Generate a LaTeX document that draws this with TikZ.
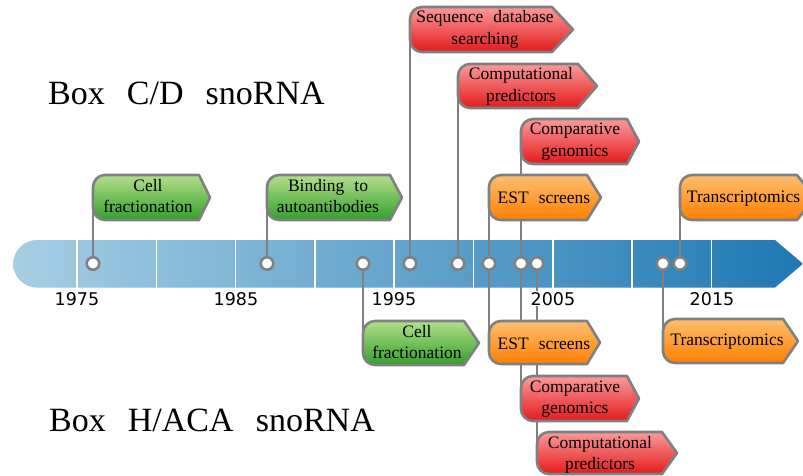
\documentclass[tikz,border=0pt]{standalone}
\usepackage{fontspec}
\setmainfont{Liberation Serif}
\newfontfamily\yearfont{DejaVu Sans}
\definecolor{edgegray}{HTML}{808080}
\definecolor{blA}{HTML}{A6CEE3}
\definecolor{blB}{HTML}{1F78B4}
\definecolor{grA}{HTML}{B2DF8A}
\definecolor{grB}{HTML}{33A02C}
\definecolor{rdA}{HTML}{FB9A99}
\definecolor{rdB}{HTML}{E31A1C}
\definecolor{orA}{HTML}{FDBF6F}
\definecolor{orB}{HTML}{FF7F00}
\newcommand\wsp{\hspace{0.57em}}
\newcommand\bsp{\hspace{0.65em}}
\tikzset{
  tagedge/.style={draw=edgegray, line width=2.6pt, line join=round},
  greentag/.style={top color=grA, bottom color=grB},
  redtag/.style={top color=rdA, bottom color=rdB},
  orangetag/.style={top color=orA, bottom color=orB},
  conn/.style={draw=edgegray, line width=2.6pt},
  dot/.style={circle, fill=white, draw=edgegray, line width=2.6pt, minimum size=12.5pt, inner sep=0pt},
  tagtext/.style={anchor=base, align=center, inner sep=0pt, text=black,
    font=\fontsize{17.5pt}{21.5pt}\selectfont},
  yearlbl/.style={anchor=base, inner sep=1pt, fill=white, text=black,
    font=\yearfont\fontsize{17.5pt}{20pt}\selectfont},
  biglbl/.style={anchor=base west, inner sep=0pt, text=black,
    font=\fontsize{34pt}{40pt}\selectfont},
  divider/.style={draw=white, line width=1.5pt}
}
% #1 name, #2 L, #3 T, #4 B, #5 body right, #6 tip x, #7 text position (last baseline), #8 style, #9 text
\newcommand\drawtag[9]{%
  \path[tagedge,#8] (#2,#3+12) .. controls (#2,#3+5.4) and (#2+5.4,#3) .. (#2+12,#3)
    -- (#5,#3) -- (#6,{(#3+#4)/2}) -- (#5,#4) -- (#2+12,#4)
    .. controls (#2+5.4,#4) and (#2,#4-5.4) .. (#2,#4-12) -- cycle;
  \node[tagtext] (#1) at (#7) {#9};
}
\begin{document}
\begin{tikzpicture}[x=1pt, y=-1pt]
\useasboundingbox (0,0) rectangle (803,476);
\clip (0,0) rectangle (803,476);
\fill[white] (0,0) rectangle (803,476);

% timeline bar
\path[left color=blA, right color=blB]
  (37,240) -- (775,240) -- (803,263.8) -- (775,287.6) -- (37,287.6)
  .. controls (23.9,287.6) and (13.2,276.9) .. (13.2,263.8)
  .. controls (13.2,250.7) and (23.9,240) .. (37,240) -- cycle;
\foreach \k in {0,...,8} {
  \draw[divider] ({77+79.3*\k},240) -- ({77+79.3*\k},287.6);
}

% markers
\node[dot] (c1976) at (93,263.5) {};
\node[dot] (c1987) at (267,263.5) {};
\node[dot] (c1993) at (363,263.5) {};
\node[dot] (c1996) at (410,263.5) {};
\node[dot] (c1999) at (458,263.5) {};
\node[dot] (c2001) at (489,263.5) {};
\node[dot] (c2003) at (521,263.5) {};
\node[dot] (c2004) at (537,263.5) {};
\node[dot] (c2012) at (663,263.5) {};
\node[dot] (c2013) at (680,263.5) {};

% tag attachment points
\coordinate (a1) at (93,197.5);
\coordinate (a2) at (267,197.5);
\coordinate (a3) at (410,29.5);
\coordinate (a4) at (458,86);
\coordinate (a5) at (521,141.5);
\coordinate (a6) at (489,197.5);
\coordinate (a7) at (680,197.5);
\coordinate (a8) at (363,343);
\coordinate (a9) at (489,342.5);
\coordinate (a10) at (521,398.5);
\coordinate (a11) at (537,453);
\coordinate (a12) at (663,341);

% connectors
\draw[conn] (c1976) -- (a1);
\draw[conn] (c1987) -- (a2);
\draw[conn] (c1996) -- (a3);
\draw[conn] (c1999) -- (a4);
\draw[conn] (c2003) -- (a5);
\draw[conn] (c2001) -- (a6);
\draw[conn] (c2013) -- (a7);
\draw[conn] (c1993) -- (a8);
\draw[conn] (c2001) -- (a9);
\draw[conn] (c2003) -- (a10);
\draw[conn] (c2004) -- (a11);
\draw[conn] (c2012) -- (a12);

% year labels
\node[yearlbl] (y1975) at (77,305) {1975};
\node[yearlbl] (y1985) at (236,305) {1985};
\node[yearlbl] (y1995) at (394,305) {1995};
\node[yearlbl] (y2005) at (553,305) {2005};
\node[yearlbl] (y2015) at (712,305) {2015};

% tags above
\drawtag{t1}{93}{175}{220}{199}{210}{148,212.5}{greentag}{Cell\\fractionation}
\drawtag{t2}{267}{175}{220}{390}{402}{328,212.5}{greentag}{Binding\wsp to\\autoantibodies}
\drawtag{t3}{410}{7}{52}{552}{573}{485,44.5}{redtag}{Sequence\wsp database\\searching}
\drawtag{t4}{458}{64}{108}{578}{597}{521,101.5}{redtag}{Computational\\predictors}
\drawtag{t5}{521}{119}{164}{627}{639}{575,156.5}{redtag}{Comparative\\genomics}
\drawtag{t6}{489}{175}{220}{587}{601}{544,203}{orangetag}{EST\wsp screens}
\drawtag{t7}{680}{175}{220}{797}{815}{743.5,202}{orangetag}{Transcriptomics}
% tags below
\drawtag{t8}{363}{321}{365}{464}{479}{417,358.5}{greentag}{Cell\\fractionation}
\drawtag{t9}{489}{321}{364}{587}{600}{544,349}{orangetag}{EST\wsp screens}
\drawtag{t10}{521}{376}{421}{627}{639}{575,413.5}{redtag}{Comparative\\genomics}
\drawtag{t11}{537}{432}{474}{662}{677}{600,469.5}{redtag}{Computational\\predictors}
\drawtag{t12}{663}{319}{363}{783}{798}{727,345}{orangetag}{Transcriptomics}

% group labels
\node[biglbl] (cd) at (48,105) {Box\bsp C/D\bsp snoRNA};
\node[biglbl] (haca) at (49,431) {Box\bsp H/ACA\bsp snoRNA};
\end{tikzpicture}
\end{document}
